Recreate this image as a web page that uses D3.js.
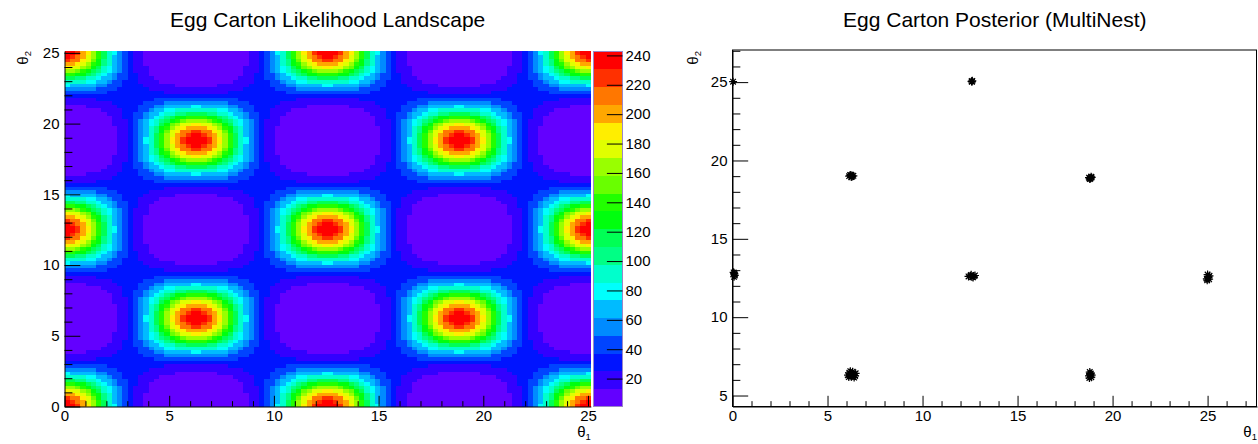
<!DOCTYPE html>
<html>
<head>
<meta charset="utf-8">
<style>
body { margin: 0; background: #fff; }
text { font-family: "Liberation Sans", Arial, Helvetica, sans-serif; fill: #000; }
</style>
</head>
<body></body>

<script src="https://cdnjs.cloudflare.com/ajax/libs/d3/7.8.5/d3.min.js"></script>

<script>

// ---------- data ----------
var title1 = "Egg Carton Likelihood Landscape";
var title2 = "Egg Carton Posterior (MultiNest)";

var nBins = 100;            // 100 x 100 histogram bins
var thetaMax = 25.133;      // axis end (8 pi)
var zMin = 1, zMax = 243;   // colour axis range
var zTicks = [20, 40, 60, 80, 100, 120, 140, 160, 180, 200, 220, 240];
var ticks1 = [0, 5, 10, 15, 20, 25];

// 20 contour colours, bottom (purple) to top (red)
var palette = ["#6300ff", "#3300ff", "#0014ff", "#0044ff", "#008bff", "#00bbff", "#00fffc",
               "#00ffcc", "#00ff85", "#00ff55", "#00ff0e", "#22ff00", "#69ff00", "#99ff00",
               "#e0ff00", "#ffee00", "#ffa700", "#ff7700", "#ff3000", "#ff0000"];

// contour level (0-19, base 20) of each bin in one quarter-period block (25 x 25 bins),
// row = theta2 bin, column = theta1 bin; the landscape mirrors this block every 25 bins
var levelBlock = [
  "jjigfdb976432110000000000",
  "jihgedb975432110000000000",
  "ihhfeca875432110000000000",
  "ggfedba875432110000000000",
  "feedca9765432111000000000",
  "ddcba98765432111000000000",
  "bbaa987654332211000000000",
  "9988776554332211100000000",
  "7777665543322211110000000",
  "6555554433322221111110000",
  "4444443333222222111111111",
  "3333333322222222222111111",
  "2222222222222222222222222",
  "1111112222222222233333333",
  "1111111112222223333444444",
  "0000111111222233344555556",
  "0000000111122233455667777",
  "0000000011122334556778899",
  "000000000112233456789aabb",
  "00000000011123456789abcdd",
  "0000000001112345679acdeef",
  "000000000011234578abdefgg",
  "000000000011234578acefhhi",
  "000000000011234579bdeghij",
  "000000000011234679bdfgijj"
];

// posterior samples (theta1, theta2)
var posterior = [
  [0.03, 25.03],
  [12.58, 25.05], [12.62, 25.08], [12.60, 25.02],
  [6.14, 19.00], [6.22, 19.05], [6.30, 18.97], [6.36, 19.02], [6.25, 18.94], [6.19, 19.07], [6.28, 19.04],
  [18.76, 18.90], [18.84, 18.85], [18.90, 18.92], [18.80, 18.82], [18.87, 18.96], [18.83, 18.88],
  [0.08, 12.58], [0.10, 12.74], [0.06, 12.86], [0.12, 12.66], [0.09, 12.80],
  [12.42, 12.60], [12.52, 12.65], [12.60, 12.57], [12.70, 12.62], [12.76, 12.66], [12.56, 12.70], [12.66, 12.54],
  [24.96, 12.45], [25.05, 12.55], [25.10, 12.64], [25.00, 12.72], [24.98, 12.36], [25.08, 12.42], [25.03, 12.58],
  [6.08, 6.30], [6.15, 6.45], [6.25, 6.20], [6.30, 6.40], [6.38, 6.30], [6.48, 6.42], [6.20, 6.55],
  [6.40, 6.15], [6.32, 6.52], [6.12, 6.18], [6.45, 6.25], [6.22, 6.35],
  [18.76, 6.25], [18.85, 6.40], [18.90, 6.30], [18.80, 6.50], [18.88, 6.17], [18.82, 6.35], [18.78, 6.12]
];
var xDomain2 = [0, 27.6], yDomain2 = [4.3, 27.05];
var xTicks2 = [0, 5, 10, 15, 20, 25], yTicks2 = [5, 10, 15, 20, 25];

// ---------- drawing ----------
var svg = d3.select("body").append("svg")
	.attr("width", 1258)
	.attr("height", 444);

svg.append("rect").attr("width", 1258).attr("height", 444).attr("fill", "#fff");

var fontTick = 15;
var fontTitle = 21;

function minorVals(lo, hi, majors) {
	return d3.range(Math.ceil(lo), Math.floor(hi) + 1).filter(v => majors.indexOf(v) < 0);
}

function thetaLabel(g, x, y, sub, anchor, rotate) {
	var t = g.append("text")
		.attr("text-anchor", anchor)
		.attr("font-size", 15)
		.attr("transform", "translate(" + x + "," + y + ")" + (rotate ? " rotate(-90)" : ""));
	t.append("tspan").text("\u03b8");
	t.append("tspan").attr("font-size", 9.5).attr("dy", 3).text(sub);
}

// ----- left: likelihood landscape -----
var x1 = d3.scaleLinear().domain([0, thetaMax]).range([64.5, 590.8]);
var y1 = d3.scaleLinear().domain([0, thetaMax]).range([406.5, 51]);
var z = d3.scaleQuantize().domain([zMin, zMax]).range(palette);
var zAxisScale = d3.scaleLinear().domain([zMin, zMax]).range([406.5, 51]);

var binW = thetaMax / nBins;
var bandW = (zMax - zMin) / palette.length;
var fold = k => { var m = k % 50; return m < 25 ? m : 49 - m; };

var cells = [];
for (var iy = 0; iy < nBins; iy++)
	for (var ix = 0; ix < nBins; ix++) {
		var lev = parseInt(levelBlock[fold(iy)][fold(ix)], 20);
		cells.push({ t1: ix * binW, t2: iy * binW, z: zMin + (lev + 0.5) * bandW });
	}

svg.append("g").attr("shape-rendering", "crispEdges")
	.selectAll("rect").data(cells).enter().append("rect")
	.attr("x", d => x1(d.t1))
	.attr("y", d => y1(d.t2 + binW))
	.attr("width", x1(binW) - x1(0) + 0.6)
	.attr("height", y1(0) - y1(binW) + 0.6)
	.attr("fill", d => z(d.z));

// colour bar
var bar = svg.append("g").attr("shape-rendering", "crispEdges");
bar.selectAll("rect").data(palette).enter().append("rect")
	.attr("x", 593)
	.attr("width", 29.5)
	.attr("y", d => zAxisScale(z.invertExtent(d)[1]))
	.attr("height", d => zAxisScale(z.invertExtent(d)[0]) - zAxisScale(z.invertExtent(d)[1]) + 0.5)
	.attr("fill", d => d);
bar.append("rect").attr("x", 593).attr("y", 51).attr("width", 29.5).attr("height", 355.5)
	.attr("fill", "none").attr("stroke", "#9a86c8").attr("stroke-width", 1);

var zAxis = svg.append("g")
	.attr("transform", "translate(622.5,0)")
	.call(d3.axisRight(zAxisScale).tickValues(zTicks).tickSize(-15.6).tickSizeOuter(0).tickPadding(3));
zAxis.select(".domain").remove();
zAxis.selectAll("line").attr("stroke", "#000");
zAxis.selectAll("text").attr("font-size", fontTick).attr("font-family", null);

// axes of left plot
var ax1 = svg.append("g").attr("transform", "translate(0,406.5)")
	.call(d3.axisBottom(x1).tickValues(ticks1).tickSize(-10.7).tickSizeOuter(0).tickPadding(4));
svg.append("g").attr("transform", "translate(0,406.5)")
	.call(d3.axisBottom(x1).tickValues(minorVals(0, 25, ticks1)).tickSize(-5.35).tickSizeOuter(0).tickFormat(""))
	.select(".domain").remove();
var ay1 = svg.append("g").attr("transform", "translate(64.5,0)")
	.call(d3.axisLeft(y1).tickValues(ticks1).tickSize(-15.8).tickSizeOuter(0).tickPadding(5));
svg.append("g").attr("transform", "translate(64.5,0)")
	.call(d3.axisLeft(y1).tickValues(minorVals(0, 25, ticks1)).tickSize(-7.9).tickSizeOuter(0).tickFormat(""))
	.select(".domain").remove();
[ax1, ay1].forEach(a => a.selectAll("text").attr("font-size", fontTick).attr("font-family", null));

svg.append("text").attr("x", (64.5 + 590.8) / 2).attr("y", 27).attr("text-anchor", "middle")
	.attr("font-size", fontTitle).text(title1);
thetaLabel(svg, 590.8, 437, "1", "end", false);
thetaLabel(svg, 28, 51, "2", "end", true);

// ----- right: posterior samples -----
var x2 = d3.scaleLinear().domain(xDomain2).range([732.5, 1257]);
var y2 = d3.scaleLinear().domain(yDomain2).range([406.5, 50]);

svg.append("rect").attr("x", 732.5).attr("y", 50).attr("width", 524).attr("height", 356.5)
	.attr("fill", "none").attr("stroke", "#000").attr("stroke-width", 1);

var ax2 = svg.append("g").attr("transform", "translate(0,406.5)")
	.call(d3.axisBottom(x2).tickValues(xTicks2).tickSize(-10.7).tickSizeOuter(0).tickPadding(4));
svg.append("g").attr("transform", "translate(0,406.5)")
	.call(d3.axisBottom(x2).tickValues(minorVals(xDomain2[0], xDomain2[1], xTicks2)).tickSize(-5.35).tickSizeOuter(0).tickFormat(""))
	.select(".domain").remove();
var ay2 = svg.append("g").attr("transform", "translate(732.5,0)")
	.call(d3.axisLeft(y2).tickValues(yTicks2).tickSize(-15.7).tickSizeOuter(0).tickPadding(5));
svg.append("g").attr("transform", "translate(732.5,0)")
	.call(d3.axisLeft(y2).tickValues(minorVals(yDomain2[0], yDomain2[1], yTicks2)).tickSize(-7.85).tickSizeOuter(0).tickFormat(""))
	.select(".domain").remove();
[ax2, ay2].forEach(a => a.selectAll("text").attr("font-size", fontTick).attr("font-family", null));

var star = "M-4,0L4,0M0,-4L0,4M-2.8,-2.8L2.8,2.8M-2.8,2.8L2.8,-2.8";
svg.append("g").selectAll("path").data(posterior).enter().append("path")
	.attr("transform", d => "translate(" + x2(d[0]) + "," + y2(d[1]) + ")")
	.attr("d", star)
	.attr("fill", "none")
	.attr("stroke", "#000")
	.attr("stroke-width", 1.2);

svg.append("text").attr("x", (732.5 + 1257) / 2).attr("y", 27).attr("text-anchor", "middle")
	.attr("font-size", fontTitle).text(title2);
thetaLabel(svg, 1257, 437, "1", "end", false);
thetaLabel(svg, 698, 51, "2", "end", true);

</script>
</html>
